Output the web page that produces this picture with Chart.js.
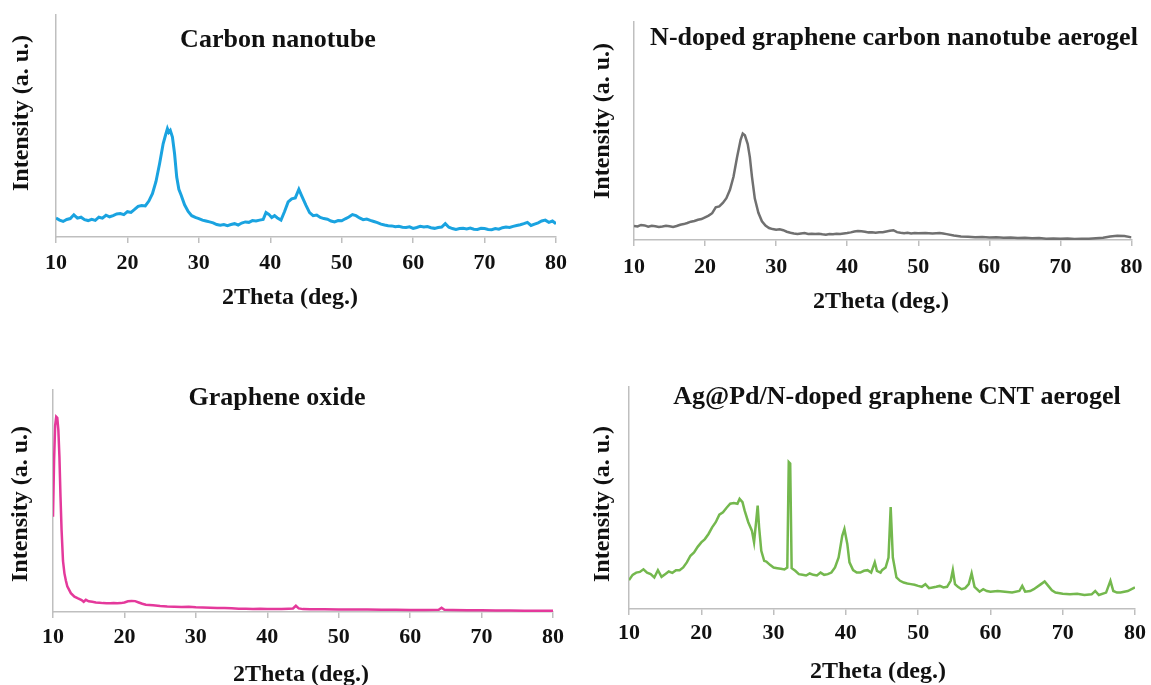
<!DOCTYPE html>
<html>
<head>
<meta charset="utf-8">
<script src="https://cdn.jsdelivr.net/npm/chart.js@4.4.1/dist/chart.umd.min.js"></script>
<style>
  html, body { margin: 0; padding: 0; background: #ffffff; overflow: hidden; }
  body { width: 1151px; height: 685px; position: relative; }
  canvas { position: absolute; }
</style>
</head>
<body>
<canvas id="c1" width="575" height="315" style="left:0px;top:0px;"></canvas>
<canvas id="c2" width="571" height="320" style="left:580px;top:0px;"></canvas>
<canvas id="c3" width="575" height="325" style="left:0px;top:370px;"></canvas>
<canvas id="c4" width="571" height="325" style="left:580px;top:370px;"></canvas>
<script>
// ---------- DATA ----------
const panelTitles = [
  "Carbon nanotube",
  "N-doped graphene carbon nanotube aerogel",
  "Graphene oxide",
  "Ag@Pd/N-doped graphene CNT aerogel"
];
const xAxisTitle = "2Theta (deg.)";
const yAxisTitle = "Intensity (a. u.)";
const xTickValues = [10, 20, 30, 40, 50, 60, 70, 80];

// Carbon nanotube
const cntX = [10,10.5,11,11.5,12,12.5,13,13.5,14,14.5,15,15.5,16,16.5,17,17.5,18,18.5,19,19.5,20,20.5,21,21.5,22,22.5,23,23.5,24,24.5,25,25.3,25.6,25.8,26,26.3,26.6,26.9,27.2,27.5,28,28.5,29,29.5,30,30.5,31,31.5,32,32.5,33,33.5,34,34.5,35,35.5,36,36.5,37,37.5,38,38.5,39,39.4,39.8,40.2,40.6,41,41.5,42,42.5,43,43.5,44,44.4,45,45.5,46,46.5,47,47.5,48,48.5,49,49.5,50,50.5,51,51.5,52,52.5,53,53.5,54,54.5,55,55.5,56,56.5,57,57.5,58,58.5,59,59.5,60,60.5,61,61.5,62,62.5,63,63.5,64,64.5,65,65.5,66,66.5,67,67.5,68,68.5,69,69.5,70,70.5,71,71.5,72,72.5,73,73.5,74,74.5,75,75.5,76,76.5,77,77.5,78,78.5,79,79.5,80];
const cntY = [8.6,7.6,7.0,7.9,8.3,10.0,8.5,8.9,7.8,7.4,8.0,7.5,8.9,8.5,9.8,9.1,9.6,10.4,10.6,10.1,11.4,11.1,12.4,13.8,14.2,14.0,16.2,19.5,25.0,33.0,42.0,45.5,48.8,47.2,48.0,45.0,37.5,27.0,21.5,19.0,14.5,11.5,9.6,8.8,8.3,7.6,7.2,6.8,6.4,5.6,5.3,5.6,5.1,5.6,6.0,5.4,6.3,6.8,6.6,7.4,7.2,7.6,7.9,11.0,10.2,8.8,9.6,8.6,7.6,11.5,15.8,17.2,17.6,21.5,18.5,14.2,11.0,9.6,9.9,8.8,8.3,8.0,7.2,6.8,7.4,7.3,8.2,9.0,10.1,9.6,8.6,7.8,8.1,7.5,7.0,6.5,5.8,5.4,5.1,5.0,4.6,4.8,4.4,4.3,4.6,3.9,4.3,4.8,4.5,4.7,4.2,3.9,4.3,4.5,6.0,4.4,3.8,3.4,3.8,3.9,3.6,4.0,3.5,3.4,3.9,3.8,3.4,3.3,3.8,3.5,4.2,4.5,4.3,4.8,5.2,5.5,6.0,6.6,5.2,5.8,6.4,7.2,7.6,6.6,7.2,6.0];

// N-doped graphene carbon nanotube aerogel
const ngX = [10,10.5,11,11.5,12,12.5,13,13.5,14,14.5,15,15.5,16,16.5,17,17.5,18,18.5,19,19.5,20,20.5,21,21.5,22,22.5,23,23.5,24,24.5,25,25.3,25.6,26,26.3,26.6,27,27.5,28,28.5,29,29.5,30,30.5,31,31.5,32,32.5,33,33.5,34,34.5,35,35.5,36,36.5,37,37.5,38,38.5,39,39.5,40,40.5,41,41.5,42,42.5,43,43.5,44,44.5,45,45.5,46,46.5,47,47.5,48,48.5,49,49.5,50,51,52,53,53.5,54,55,56,57,58,59,60,61,62,63,64,65,66,67,68,69,70,71,72,73,74,75,76,77,78,79,80];
const ngY = [6.4,6.2,6.9,6.7,6.1,6.5,6.3,6.0,6.2,6.5,6.3,6.0,6.4,7.0,7.3,7.8,8.4,8.7,9.3,9.6,10.4,11.2,12.3,15.0,15.4,17.0,19.2,23.0,29.0,38.0,46.0,48.8,48.0,44.0,38.0,29.0,19.0,12.5,8.6,6.6,5.5,5.0,4.7,4.9,4.5,3.8,3.3,3.0,2.8,3.0,3.2,2.8,2.9,2.7,2.9,2.6,2.4,2.7,2.6,2.9,2.8,3.0,3.2,3.5,3.9,4.1,4.0,3.8,3.5,3.6,3.3,3.5,3.6,3.9,4.2,4.5,3.6,3.3,3.1,3.3,3.0,3.2,3.1,3.2,3.0,3.2,3.0,2.7,2.1,1.6,1.5,1.3,1.4,1.2,1.3,1.0,1.1,0.9,1.0,0.8,0.9,0.6,0.7,0.6,0.7,0.5,0.6,0.6,0.8,1.0,1.6,2.0,1.8,1.2];

// Graphene oxide
const goX = [10,10.15,10.3,10.45,10.6,10.75,10.9,11.05,11.2,11.4,11.6,11.8,12,12.5,13,13.5,14,14.3,14.6,15,15.5,16,16.5,17,17.5,18,18.5,19,19.5,20,20.5,21,21.5,22,22.5,23,24,25,26,27,28,29,30,31,32,33,34,35,36,37,38,39,40,41,42,43,43.6,44,44.4,45,46,48,50,52,54,56,58,60,62,64,64.4,64.8,66,68,70,72,74,76,78,80];
const goY = [42.9,68,84,88,87.5,82,70,52,37,23,17.4,14.2,11.6,8.5,6.9,6.1,5.4,4.6,5.5,4.8,4.6,4.3,4.2,4.0,3.9,3.9,4.0,3.9,4.0,4.3,4.8,5.0,4.9,4.3,3.7,3.3,3.0,2.7,2.5,2.4,2.3,2.4,2.1,2.0,1.9,1.8,1.8,1.7,1.5,1.5,1.4,1.5,1.3,1.4,1.4,1.5,1.6,2.8,1.6,1.3,1.2,1.2,1.1,1.1,1.1,1.0,1.0,0.9,0.9,1.0,1.9,1.0,0.9,0.8,0.8,0.7,0.7,0.6,0.6,0.6];

// Ag@Pd/N-doped graphene CNT aerogel
const agX = [10,10.5,11,11.5,12,12.5,13,13.5,14,14.5,15,15.5,16,16.5,17,17.5,18,18.5,19,19.5,20,20.5,21,21.5,22,22.5,23,23.5,24,24.5,25,25.3,25.7,26,26.5,27,27.3,27.6,27.8,28,28.3,28.7,29,29.5,30,30.5,31,31.5,31.9,32.1,32.3,32.5,33,33.5,34,34.5,35,35.5,36,36.5,37,37.5,38,38.5,39,39.5,39.8,40.2,40.5,41,41.5,42,42.5,43,43.5,44,44.3,44.8,45,45.5,45.9,46.2,46.5,47,47.5,48,48.5,49,49.5,50,50.5,51,51.5,52,52.5,53,53.5,54,54.5,54.8,55.1,55.5,56,56.5,57,57.4,57.8,58.5,59,59.5,60,61,62,63,64,64.4,64.8,65.5,66,67,67.5,68,68.5,69,70,71,72,73,74,74.5,75,76,76.6,77,77.5,78,79,80];
const agY = [13,15.4,16.4,16.7,17.9,16.4,15.7,14.2,17.5,14.5,15.7,16.9,16.3,17.5,17.5,18.7,21,24,25.5,28,30,31.5,33.8,36.8,39.1,42.5,43.6,45.6,47.4,47.7,47.4,49.6,48.1,44.3,39.1,35.3,30,39.8,46.6,36.8,26.2,21.7,21.4,19.9,18.7,18.4,18.1,17.8,18.7,66.2,65.5,18.4,17.2,15.7,15.4,15.1,16,15.4,15.1,16.4,15.4,15.7,16.4,18.7,23.2,33,36,29.3,21,17.5,16.4,16.4,17.2,17.5,16.4,21,17.2,16.4,17.5,18.7,23.2,45.9,23.2,14.2,12.7,11.9,11.5,11.2,10.9,10.4,10,11.2,9.4,9.7,10,10.4,9.7,10,12.7,17.5,11.2,10,8.9,9.4,11.2,16.1,10,7.8,8.9,8.1,7.8,8.1,7.8,7.4,8.1,10.4,7.8,8.1,8.9,11.2,12.4,10.4,8.4,7.4,6.9,6.6,6.9,6.3,6.6,8.1,6.3,7.4,12.7,8.1,7.4,7.4,8.1,9.7];

// ---------- CHARTS ----------
const serif = "'Liberation Serif', 'Times New Roman', serif";

// Draws the panel heading and the two axis titles as canvas text.
const panelTextPlugin = {
  id: 'panelText',
  afterDraw(chart, args, opts) {
    const ctx = chart.ctx;
    ctx.save();
    ctx.fillStyle = '#111111';
    ctx.textAlign = 'center';
    ctx.textBaseline = 'middle';
    ctx.font = "bold 26px " + serif;
    ctx.fillText(opts.title, opts.tx, opts.ty);
    ctx.font = "bold 24px " + serif;
    ctx.fillText(xAxisTitle, opts.xtx, opts.xty);
    ctx.translate(opts.ytx, opts.yty);
    ctx.rotate(-Math.PI / 2);
    ctx.fillText(yAxisTitle, 0, 0);
    ctx.restore();
  }
};

function pairs(xs, ys) {
  return xs.map((x, i) => ({ x: x, y: ys[i] }));
}

function makePanel(id, cfg) {
  const ctx = document.getElementById(id);
  return new Chart(ctx, {
    type: 'line',
    data: {
      datasets: [{
        data: pairs(cfg.xs, cfg.ys),
        borderColor: cfg.color,
        borderWidth: cfg.lw,
        pointRadius: 0,
        tension: 0,
        fill: false
      }]
    },
    options: {
      responsive: false,
      animation: false,
      events: [],
      layout: { padding: cfg.pad },
      plugins: {
        legend: { display: false },
        tooltip: { enabled: false },
        panelText: cfg.text
      },
      scales: {
        x: {
          type: 'linear',
          min: 10, max: 80,
          afterBuildTicks: (s) => { s.ticks = xTickValues.map(v => ({ value: v })); },
          afterFit: (s) => { s.height = cfg.xH; },
          grid: { display: true, drawOnChartArea: false, drawTicks: true, tickLength: 6, color: '#bfbfbf', lineWidth: 1.5 },
          border: { display: true, color: '#bfbfbf', width: 1.5 },
          ticks: { autoSkip: false, maxRotation: 0, padding: cfg.tickPad, color: '#111111',
                   font: { family: serif, size: 22, weight: 'bold' } },
          title: { display: false }
        },
        y: {
          type: 'linear',
          min: 0, max: 100,
          afterFit: (s) => { s.width = cfg.yW; },
          grid: { display: false },
          border: { display: true, color: '#bfbfbf', width: 1.5 },
          ticks: { display: false },
          title: { display: false }
        }
      }
    },
    plugins: [panelTextPlugin]
  });
}

makePanel('c1', { xs: cntX, ys: cntY, color: '#1aa3e0', lw: 3,
  text: { title: panelTitles[0], tx: 278, ty: 40, xtx: 290, xty: 298, ytx: 22, yty: 113 },
  pad: { left: 0, top: 15, right: 19, bottom: 3 }, yW: 56, xH: 75, tickPad: 7 });
makePanel('c2', { xs: ngX, ys: ngY, color: '#707070', lw: 2.5,
  text: { title: panelTitles[1], tx: 314, ty: 38, xtx: 301, xty: 302, ytx: 23, yty: 121 },
  pad: { left: 0, top: 22, right: 16, bottom: 4 }, yW: 54, xH: 76, tickPad: 8.5 });
makePanel('c3', { xs: goX, ys: goY, color: '#e4399b', lw: 2.5,
  text: { title: panelTitles[2], tx: 277, ty: 28, xtx: 301, xty: 305, ytx: 21, yty: 134 },
  pad: { left: 0, top: 20, right: 22, bottom: 6 }, yW: 53, xH: 77, tickPad: 6 });
makePanel('c4', { xs: agX, ys: agY, color: '#74b84e', lw: 2.5,
  text: { title: panelTitles[3], tx: 317, ty: 27, xtx: 298, xty: 302, ytx: 23, yty: 134 },
  pad: { left: 0, top: 17, right: 13, bottom: 9 }, yW: 49, xH: 77, tickPad: 5 });
</script>
</body>
</html>
